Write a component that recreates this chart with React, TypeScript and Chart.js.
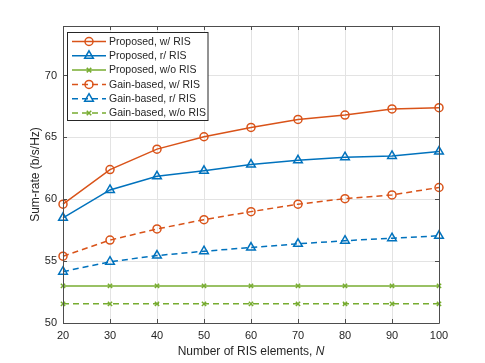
import React, { useEffect, useRef } from "react";
import { Chart, registerables } from "chart.js";

Chart.register(...registerables);

const xValues = [20, 30, 40, 50, 60, 70, 80, 90, 100];
const proposedWRIS = [59.6, 62.4, 64.05, 65.05, 65.8, 66.45, 66.8, 67.3, 67.4];
const proposedRRIS = [58.5, 60.75, 61.85, 62.3, 62.8, 63.15, 63.4, 63.5, 63.85];
const proposedWoRIS = [53.0, 53.0, 53.0, 53.0, 53.0, 53.0, 53.0, 53.0, 53.0];
const gainWRIS = [55.4, 56.7, 57.6, 58.35, 59.0, 59.6, 60.05, 60.35, 60.95];
const gainRRIS = [54.15, 54.95, 55.45, 55.8, 56.1, 56.4, 56.65, 56.85, 57.05];
const gainWoRIS = [51.55, 51.55, 51.55, 51.55, 51.55, 51.55, 51.55, 51.55, 51.55];

const seriesLabels = [
  "Proposed, w/ RIS",
  "Proposed, r/ RIS",
  "Proposed, w/o RIS",
  "Gain-based, w/ RIS",
  "Gain-based, r/ RIS",
  "Gain-based, w/o RIS",
];

const ORANGE = "#D95319";
const BLUE = "#0072BD";
const GREEN = "#77AC30";
const TEXT = "#262626";
const FONT = "'Liberation Sans', Arial, Helvetica, sans-serif";

function toPoints(ys: number[]) {
  return ys.map((y, i) => ({ x: xValues[i], y }));
}

function drawMarker(ctx: CanvasRenderingContext2D, style: string, x: number, y: number, r: number, color: string) {
  ctx.save();
  ctx.strokeStyle = color;
  ctx.lineWidth = 1.5;
  ctx.setLineDash([]);
  ctx.beginPath();
  if (style === "circle") {
    ctx.arc(x, y, r, 0, Math.PI * 2);
  } else if (style === "triangle") {
    let rad = 0;
    const t = (2 * Math.PI) / 3;
    ctx.moveTo(x + Math.sin(rad) * r, y - Math.cos(rad) * r);
    rad += t;
    ctx.lineTo(x + Math.sin(rad) * r, y - Math.cos(rad) * r);
    rad += t;
    ctx.lineTo(x + Math.sin(rad) * r, y - Math.cos(rad) * r);
    ctx.closePath();
  } else {
    const d = r * 0.75;
    ctx.moveTo(x - d, y - d);
    ctx.lineTo(x + d, y + d);
    ctx.moveTo(x + d, y - d);
    ctx.lineTo(x - d, y + d);
  }
  ctx.stroke();
  ctx.restore();
}

const framePlugin = {
  id: "frame",
  afterDatasetsDraw(chart: any) {
    const { ctx, chartArea } = chart;
    const { left, right, top, bottom } = chartArea;
    const xs = chart.scales.x;
    const ys = chart.scales.y;
    ctx.save();
    ctx.strokeStyle = "#4d4d4d";
    ctx.lineWidth = 1;
    ctx.setLineDash([]);
    ctx.beginPath();
    ctx.rect(Math.round(left) + 0.5, Math.round(top) + 0.5, Math.round(right - left), Math.round(bottom - top));
    ctx.stroke();
    const tl = 4;
    ctx.beginPath();
    xs.ticks.forEach((t: any) => {
      const px = Math.round(xs.getPixelForValue(t.value)) + 0.5;
      ctx.moveTo(px, bottom);
      ctx.lineTo(px, bottom - tl);
      ctx.moveTo(px, top);
      ctx.lineTo(px, top + tl);
    });
    ys.ticks.forEach((t: any) => {
      const py = Math.round(ys.getPixelForValue(t.value)) + 0.5;
      ctx.moveTo(left, py);
      ctx.lineTo(left + tl, py);
      ctx.moveTo(right, py);
      ctx.lineTo(right - tl, py);
    });
    ctx.stroke();
    ctx.restore();
  },
  afterDraw(chart: any) {
    const { ctx, chartArea } = chart;
    const { left, right, top, bottom } = chartArea;
    ctx.save();
    ctx.fillStyle = TEXT;
    ctx.textBaseline = "middle";
    const cx = (left + right) / 2;
    const part1 = "Number of RIS elements, ";
    ctx.font = `12px ${FONT}`;
    const w1 = ctx.measureText(part1).width;
    ctx.font = `italic 12px ${FONT}`;
    const w2 = ctx.measureText("N").width;
    const sx = cx - (w1 + w2) / 2;
    ctx.textAlign = "left";
    ctx.font = `12px ${FONT}`;
    ctx.fillText(part1, sx, 352);
    ctx.font = `italic 12px ${FONT}`;
    ctx.fillText("N", sx + w1, 352);

    ctx.save();
    ctx.translate(36, (top + bottom) / 2);
    ctx.rotate(-Math.PI / 2);
    ctx.textAlign = "center";
    ctx.font = `12px ${FONT}`;
    ctx.fillText("Sum-rate (b/s/Hz)", 0, 0);
    ctx.restore();

    const bx = 67.5, by = 32.5, bw = 140.5, bh = 88;
    ctx.fillStyle = "#ffffff";
    ctx.fillRect(bx, by, bw, bh);
    ctx.strokeStyle = TEXT;
    ctx.lineWidth = 1;
    ctx.strokeRect(bx, by, bw, bh);
    chart.data.datasets.forEach((ds: any, i: number) => {
      const yy = 41.5 + i * 14.3;
      ctx.save();
      ctx.strokeStyle = ds.borderColor;
      ctx.lineWidth = ds.borderWidth;
      ctx.setLineDash(ds.borderDash || []);
      ctx.beginPath();
      ctx.moveTo(72, yy);
      ctx.lineTo(106, yy);
      ctx.stroke();
      ctx.restore();
      drawMarker(ctx, ds.pointStyle, 89, yy, ds.pointRadius, ds.borderColor);
      ctx.fillStyle = TEXT;
      ctx.font = `10.5px ${FONT}`;
      ctx.textAlign = "left";
      ctx.textBaseline = "middle";
      ctx.fillText(ds.label, 109, yy + 0.5);
    });
    ctx.restore();
  },
};

function makeDataset(label: string, ys: number[], color: string, style: string, dashed: boolean, r: number) {
  return {
    label,
    data: toPoints(ys),
    borderColor: color,
    backgroundColor: "rgba(0,0,0,0)",
    borderWidth: 1.5,
    borderDash: dashed ? [6, 4] : [],
    pointStyle: style,
    pointRadius: r,
    pointBorderWidth: 1.5,
    pointBackgroundColor: "rgba(0,0,0,0)",
    pointBorderColor: color,
    fill: false,
    tension: 0,
    clip: false as any,
  };
}

export default function App() {
  const canvasRef = useRef<HTMLCanvasElement | null>(null);

  useEffect(() => {
    document.body.style.margin = "0";
    const canvas = canvasRef.current;
    if (!canvas) return;
    const chart = new Chart(canvas, {
      type: "line",
      data: {
        datasets: [
          makeDataset(seriesLabels[0], proposedWRIS, ORANGE, "circle", false, 4),
          makeDataset(seriesLabels[1], proposedRRIS, BLUE, "triangle", false, 5),
          makeDataset(seriesLabels[2], proposedWoRIS, GREEN, "crossRot", false, 3),
          makeDataset(seriesLabels[3], gainWRIS, ORANGE, "circle", true, 4),
          makeDataset(seriesLabels[4], gainRRIS, BLUE, "triangle", true, 5),
          makeDataset(seriesLabels[5], gainWoRIS, GREEN, "crossRot", true, 3),
        ] as any,
      },
      options: {
        animation: false,
        responsive: false,
        devicePixelRatio: 1,
        layout: { padding: { left: 0, top: 26, right: 46, bottom: 0 } },
        plugins: {
          legend: { display: false },
          tooltip: { enabled: false },
        },
        scales: {
          x: {
            type: "linear",
            min: 20,
            max: 100,
            ticks: { stepSize: 10, color: TEXT, font: { family: FONT, size: 11 }, padding: 6 },
            grid: { color: "#e3e3e3", drawTicks: false },
            border: { display: false },
            afterFit(scale: any) {
              scale.height = 40;
            },
          },
          y: {
            type: "linear",
            min: 50,
            max: 74,
            ticks: { stepSize: 5, color: TEXT, font: { family: FONT, size: 11 }, padding: 6 },
            grid: { color: "#e3e3e3", drawTicks: false },
            border: { display: false },
            afterBuildTicks(scale: any) {
              scale.ticks = scale.ticks.filter((t: any) => t.value % 5 === 0);
            },
            afterFit(scale: any) {
              scale.width = 63;
            },
          },
        },
      } as any,
      plugins: [framePlugin],
    });
    return () => chart.destroy();
  }, []);

  return (
    <div style={{ position: "absolute", left: 0, top: 0, width: 485, height: 363, background: "#fff" }}>
      <canvas ref={canvasRef} width={485} height={363} style={{ width: 485, height: 363 }} />
    </div>
  );
}
